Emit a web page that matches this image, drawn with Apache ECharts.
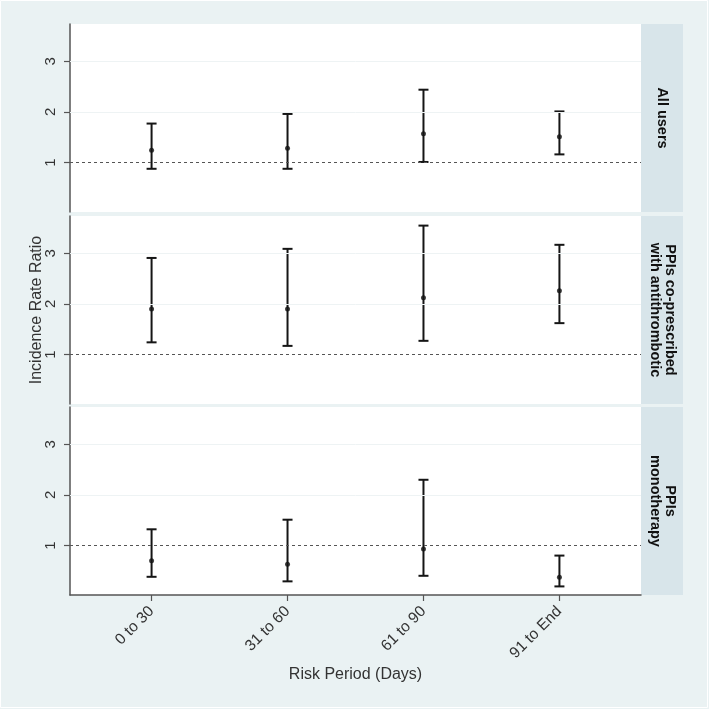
<!DOCTYPE html>
<html>
<head>
<meta charset="utf-8">
<script src="https://cdn.jsdelivr.net/npm/echarts@6/dist/echarts.min.js"></script>
<style>
html,body{margin:0;padding:0;background:#ffffff;}
#c{width:709px;height:709px;}
</style>
</head>
<body>
<div id="c"></div>
<script>
const categories = ['0 to 30', '31 to 60', '61 to 90', '91 to End'];
const panelNames = ['All users', 'PPIs co-prescribed\nwith antithrombotic', 'PPIs\nmonotherapy'];
const estAll = [1.24, 1.28, 1.57, 1.51];
const lowAll = [0.875, 0.875, 1.01, 1.16];
const highAll = [1.77, 1.96, 2.44, 2.01];
const estCo = [1.90, 1.90, 2.12, 2.26];
const lowCo = [1.24, 1.17, 1.27, 1.62];
const highCo = [2.91, 3.09, 3.55, 3.17];
const estMono = [0.70, 0.63, 0.93, 0.37];
const lowMono = [0.38, 0.29, 0.40, 0.19];
const highMono = [1.32, 1.51, 2.30, 0.80];
const yTicks = [1, 2, 3];
const refValue = 1;

const panels = [
  {est: estAll, low: lowAll, high: highAll},
  {est: estCo, low: lowCo, high: highCo},
  {est: estMono, low: lowMono, high: highMono}
];
const xPos = categories.map((c, i) => i + 1);

const chart = echarts.init(document.getElementById('c'), null, {renderer: 'canvas'});
const FONT = 'Liberation Sans, Arial, sans-serif';
const gridTops = [24, 216, 407];
const gridH = 188;
const gridLeft = 70, gridRight = 641;

const grids = gridTops.map(t => ({
  left: gridLeft, top: t, width: gridRight - gridLeft, height: gridH,
  show: true, backgroundColor: '#ffffff', borderWidth: 0
}));

const xAxes = panels.map((p, i) => ({
  type: 'value', gridIndex: i, min: 0.4, max: 4.6,
  axisLine: {show: i === 2, onZero: false, lineStyle: {color: '#555', width: 1.5}},
  axisTick: {show: i === 2, length: 6, customValues: xPos, lineStyle: {color: '#555', width: 1.2}},
  splitLine: {show: false},
  axisLabel: {
    show: i === 2, customValues: xPos, rotate: 45, fontSize: 15.5, color: '#333', fontFamily: FONT, margin: 14,
    formatter: v => categories[Math.round(v) - 1] || ''
  },
  name: i === 2 ? 'Risk Period (Days)' : '',
  nameLocation: 'middle', nameGap: 72, nameMoveOverlap: false,
  nameTextStyle: {fontSize: 16, color: '#333', fontFamily: FONT}
}));

const yAxes = panels.map((p, i) => ({
  type: 'value', gridIndex: i, min: 0.02, max: 3.74,
  axisLine: {show: true, lineStyle: {color: '#555', width: 1.5}},
  axisTick: {show: true, length: 6, customValues: yTicks, lineStyle: {color: '#555', width: 1.2}},
  splitLine: {show: false},
  axisLabel: {
    customValues: yTicks, rotate: 90, fontSize: 15, color: '#333', fontFamily: FONT, margin: 12
  },
  name: i === 1 ? 'Incidence Rate Ratio' : '',
  nameLocation: 'middle', nameGap: 25, nameRotate: 90, nameMoveOverlap: false,
  nameTextStyle: {fontSize: 16, color: '#333', fontFamily: FONT}
}));

const series = [];
panels.forEach((p, i) => {
  series.push({
    type: 'custom', xAxisIndex: i, yAxisIndex: i,
    data: xPos.map((x, k) => [x, p.low[k], p.high[k]]),
    encode: {x: 0, y: [1, 2]},
    renderItem: function (params, api) {
      const x = api.value(0), lo = api.value(1), hi = api.value(2);
      const a = api.coord([x, lo]), b = api.coord([x, hi]);
      const w = 5;
      const st = {stroke: '#151515', lineWidth: 2};
      return {type: 'group', children: [
        {type: 'line', shape: {x1: a[0], y1: a[1], x2: b[0], y2: b[1]}, style: st},
        {type: 'line', shape: {x1: a[0] - w, y1: a[1], x2: a[0] + w, y2: a[1]}, style: st},
        {type: 'line', shape: {x1: b[0] - w, y1: b[1], x2: b[0] + w, y2: b[1]}, style: st}
      ]};
    },
    z: 3,
    markLine: {
      silent: true, symbol: 'none', label: {show: false}, animation: false,
      data: yTicks.map(v => ({
        yAxis: v,
        lineStyle: v === refValue
          ? {type: [3, 3], color: '#555', width: 1}
          : {type: 'solid', color: '#eef3f4', width: 1}
      }))
    }
  });
  series.push({
    type: 'scatter', xAxisIndex: i, yAxisIndex: i,
    data: xPos.map((x, k) => [x, p.est[k]]),
    symbol: 'circle', symbolSize: 5,
    itemStyle: {color: '#111'}, z: 4
  });
});

const graphic = [
  {type: 'rect', left: 0, top: 0, shape: {x: 1, y: 1, width: 707, height: 707},
   style: {fill: '#eaf2f3', stroke: '#ffffff', lineWidth: 1}, z: -10}
];
gridTops.forEach((t, i) => {
  graphic.push({type: 'rect', shape: {x: gridRight, y: t, width: 42, height: gridH},
    style: {fill: '#d8e5ea'}, z: -5});
  graphic.push({type: 'text', x: gridRight + 21, y: t + gridH / 2, rotation: -Math.PI / 2,
    style: {text: panelNames[i], fill: '#111', font: 'bold 14.5px ' + FONT,
      textAlign: 'center', textVerticalAlign: 'middle', lineHeight: 15}, z: 5});
});

chart.setOption({
  animation: false,
  backgroundColor: '#eaf2f3',
  grid: grids,
  xAxis: xAxes,
  yAxis: yAxes,
  series: series,
  graphic: graphic
});
</script>
</body>
</html>
